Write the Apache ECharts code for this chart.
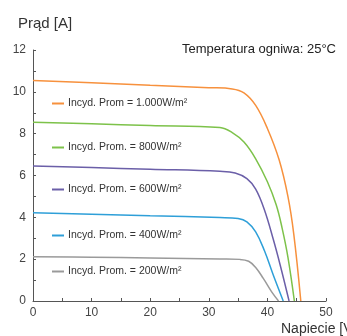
<!DOCTYPE html>
<html><head><meta charset="utf-8">
<script src="https://cdn.jsdelivr.net/npm/echarts@6/dist/echarts.min.js"></script>
<style>html,body{margin:0;padding:0;background:#fff}#c{width:347px;height:336px}</style>
</head><body><div id="c"></div>
<script>
const seriesNames = ['Incyd. Prom = 1.000W/m²','Incyd. Prom. = 800W/m²','Incyd. Prom. = 600W/m²','Incyd. Prom. = 400W/m²','Incyd. Prom. = 200W/m²'];
const s1000 = [[0,10.54],[10,10.43],[20,10.31],[30,10.2],[34.0,10.14],[36,9.95],[38,9.35],[40,8.25],[42,6.75],[43.5,5.0],[44.5,3.2],[45.7,0]];
const s800 = [[0,8.55],[10,8.47],[20,8.39],[31.9,8.29],[34,8.05],[36,7.6],[38,6.8],[40,5.7],[41.5,4.6],[42.5,3.5],[43.5,2.1],[44.6,0]];
const s600 = [[0,6.46],[10,6.38],[20,6.3],[31.9,6.2],[34.5,6.12],[36.5,5.85],[38,5.35],[39.5,4.35],[41,2.95],[42.2,1.7],[43.7,0]];
const s400 = [[0,4.22],[10,4.15],[20,4.08],[31.9,3.99],[35,3.94],[36.5,3.78],[38,3.3],[39.5,2.4],[41,1.24],[42.7,0]];
const s200 = [[0,2.12],[10,2.09],[20,2.06],[31.9,2.01],[35.3,1.99],[36.8,1.9],[38,1.6],[39.3,1.08],[40.7,0.45],[41.9,0]];
const colors = ['#f7913d','#7dc24a','#6b5fa8','#2e9fd8','#9a9a9a'];
const xTicks = [0,10,20,30,40,50];
const yTicks = [0,2,4,6,8,10,12];
const allData = [s1000,s800,s600,s400,s200];
const legendTops = [93,137,179,225,261];

const chart = echarts.init(document.getElementById('c'));
const FF = '"Liberation Sans", Arial, sans-serif';
chart.setOption({
  animation:false,
  textStyle:{fontFamily:FF},
  grid:{left:33,right:21,top:50,bottom:35},
  title:[
    {text:'Prąd [A]',left:13,top:11,textStyle:{fontSize:15,fontWeight:'normal',color:'#333',fontFamily:FF}},
    {text:'Temperatura ogniwa: 25°C',right:6,top:38,textStyle:{fontSize:13,fontWeight:'normal',color:'#222',fontFamily:FF}},
    {text:'Napiecie [V]',left:276,top:317,textStyle:{fontSize:14,fontWeight:'normal',color:'#333',fontFamily:FF}}
  ],
  legend: seriesNames.map((n,i)=>({
    data:[n],left:47,top:legendTops[i],itemWidth:12,itemHeight:2,itemGap:4,
    icon:'rect',textStyle:{fontSize:10.5,color:'#333',fontFamily:FF,padding:[0,0,0,-1]},selectedMode:false
  })),
  xAxis:{type:'value',min:0,max:50,interval:5,
    axisLine:{lineStyle:{color:'#555',width:1}},
    axisTick:{show:true,inside:true,length:3,lineStyle:{color:'#555'}},
    splitLine:{show:false},
    axisLabel:{color:'#444',fontSize:12,margin:6,formatter:v=>xTicks.includes(v)?String(v):''}},
  yAxis:{type:'value',min:0,max:12,interval:1,
    axisLine:{show:true,lineStyle:{color:'#555',width:1}},
    axisTick:{show:true,inside:true,length:3,lineStyle:{color:'#555'}},
    splitLine:{show:false},
    axisLabel:{color:'#444',fontSize:12,margin:7,formatter:v=>yTicks.includes(v)?String(v):''}},
  series: allData.map((d,i)=>({
    name:seriesNames[i],type:'line',data:d,smooth:0.4,showSymbol:false,symbol:'none',
    lineStyle:{color:colors[i],width:1.5},itemStyle:{color:colors[i]}
  }))
});
</script></body></html>
